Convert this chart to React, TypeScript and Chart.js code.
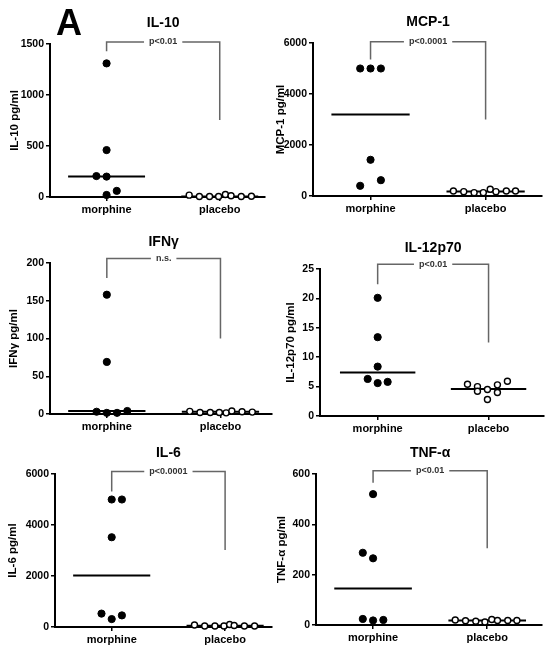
import React, { useEffect, useRef } from 'react';
import { Chart, registerables } from 'chart.js';

Chart.register(...registerables);

const FONT = '"Liberation Sans", Arial, Helvetica, sans-serif';

// ---- shared categories ----
const categories = ['morphine', 'placebo'];

// ---- IL-10 ----
const il10Morphine = [1310, 460, 205, 200, 20, 60];
const il10MorphineSpread = [0, 0, -0.09, 0, 0, 0.09];
const il10Placebo = [18, 5, 5, 5, 25, 12, 5, 8];
const il10PlaceboSpread = [-0.27, -0.18, -0.09, -0.01, 0.05, 0.1, 0.19, 0.28];
const il10Medians = [200, 5];
const il10Bracket = [1430, 1520, 755];
const il10Ticks = [0, 1500, 500];

// ---- MCP-1 ----
const mcp1Morphine = [5000, 5000, 5000, 1420, 620, 400];
const mcp1MorphineSpread = [-0.09, 0, 0.09, 0, 0.09, -0.09];
const mcp1Placebo = [196, 170, 131, 131, 262, 170, 196, 196];
const mcp1PlaceboSpread = [-0.28, -0.19, -0.1, -0.02, 0.04, 0.09, 0.18, 0.26];
const mcp1Medians = [3200, 180];
const mcp1Bracket = [5350, 6050, 3000];
const mcp1Ticks = [0, 6000, 2000];

// ---- IFNγ ----
const ifngMorphine = [158, 69, 3, 1.5, 1.5, 4];
const ifngMorphineSpread = [0, 0, -0.09, 0, 0.09, 0.18];
const ifngPlacebo = [3.5, 2, 2, 2, 1.5, 4, 3, 2.5];
const ifngPlaceboSpread = [-0.27, -0.18, -0.09, -0.01, 0.05, 0.1, 0.19, 0.28];
const ifngMedians = [4, 3];
const ifngBracket = [180, 206, 100];
const ifngTicks = [0, 200, 50];

// ---- IL-12p70 ----
const il12Morphine = [20.1, 13.4, 8.4, 6.3, 5.6, 5.8];
const il12MorphineSpread = [0, 0, 0, -0.09, 0, 0.09];
const il12Placebo = [5.4, 5.0, 4.2, 4.5, 2.8, 5.3, 4.0, 5.9];
const il12PlaceboSpread = [-0.19, -0.1, -0.1, -0.01, -0.01, 0.08, 0.08, 0.17];
const il12Medians = [7.4, 4.6];
const il12Bracket = [22.4, 25.8, 12.5];
const il12Ticks = [0, 25, 5];

// ---- IL-6 ----
const il6Morphine = [5000, 5000, 3520, 525, 310, 455];
const il6MorphineSpread = [0, 0.09, 0, -0.09, 0, 0.09];
const il6Placebo = [80, 40, 40, 40, 100, 60, 40, 40];
const il6PlaceboSpread = [-0.27, -0.18, -0.09, -0.01, 0.04, 0.08, 0.17, 0.26];
const il6Medians = [2020, 50];
const il6Bracket = [5315, 6100, 3020];
const il6Ticks = [0, 6000, 2000];

// ---- TNF-α ----
const tnfMorphine = [520, 287, 265, 24, 18, 20];
const tnfMorphineSpread = [0, -0.09, 0, -0.09, 0, 0.09];
const tnfPlacebo = [20, 17, 15, 12, 22, 18, 18, 18];
const tnfPlaceboSpread = [-0.28, -0.19, -0.1, -0.02, 0.04, 0.09, 0.18, 0.26];
const tnfMedians = [145, 18];
const tnfBracket = [565, 613, 305];
const tnfTicks = [0, 600, 200];

const MEDIAN_HALF = 0.34;
const X_AXIS_H = 20;

type Box = { left: number; top: number; width: number; height: number };
type Layout = {
  box: Box;
  axisW: number;
  padTop: number;
  padRight: number;
  padBottom: number;
  yTitlePad: number;
  xMin: number;
  xMax: number;
};
type PanelDef = {
  title: string;
  yTitle: string;
  pText: string;
  ticks: number[];
  morph: number[];
  morphDx: number[];
  plac: number[];
  placDx: number[];
  medians: number[];
  bracket: number[];
  label?: string;
  layout: Layout;
};

const panels: PanelDef[] = [
  {
    title: 'IL-10', yTitle: 'IL-10 pg/ml', pText: 'p<0.01', ticks: il10Ticks,
    morph: il10Morphine, morphDx: il10MorphineSpread, plac: il10Placebo, placDx: il10PlaceboSpread,
    medians: il10Medians, bracket: il10Bracket, label: 'A',
    layout: { box: { left: 0, top: 0, width: 277, height: 225 }, axisW: 50, padTop: 44, padRight: 12, padBottom: 8, yTitlePad: 8, xMin: 0.5, xMax: 2.4 },
  },
  {
    title: 'MCP-1', yTitle: 'MCP-1 pg/ml', pText: 'p<0.0001', ticks: mcp1Ticks,
    morph: mcp1Morphine, morphDx: mcp1MorphineSpread, plac: mcp1Placebo, placDx: mcp1PlaceboSpread,
    medians: mcp1Medians, bracket: mcp1Bracket,
    layout: { box: { left: 270, top: 0, width: 284, height: 225 }, axisW: 43, padTop: 43, padRight: 12, padBottom: 9, yTitlePad: 4, xMin: 0.5, xMax: 2.49 },
  },
  {
    title: 'IFNγ', yTitle: 'IFNγ pg/ml', pText: 'n.s.', ticks: ifngTicks,
    morph: ifngMorphine, morphDx: ifngMorphineSpread, plac: ifngPlacebo, placDx: ifngPlaceboSpread,
    medians: ifngMedians, bracket: ifngBracket,
    layout: { box: { left: 0, top: 215, width: 277, height: 225 }, axisW: 50, padTop: 48, padRight: 5, padBottom: 6, yTitlePad: 7, xMin: 0.5, xMax: 2.45 },
  },
  {
    title: 'IL-12p70', yTitle: 'IL-12p70 pg/ml', pText: 'p<0.01', ticks: il12Ticks,
    morph: il12Morphine, morphDx: il12MorphineSpread, plac: il12Placebo, placDx: il12PlaceboSpread,
    medians: il12Medians, bracket: il12Bracket,
    layout: { box: { left: 270, top: 215, width: 284, height: 225 }, axisW: 50, padTop: 54, padRight: 10, padBottom: 4, yTitlePad: 14, xMin: 0.48, xMax: 2.5 },
  },
  {
    title: 'IL-6', yTitle: 'IL-6 pg/ml', pText: 'p<0.0001', ticks: il6Ticks,
    morph: il6Morphine, morphDx: il6MorphineSpread, plac: il6Placebo, placDx: il6PlaceboSpread,
    medians: il6Medians, bracket: il6Bracket,
    layout: { box: { left: 0, top: 430, width: 277, height: 223 }, axisW: 55, padTop: 44, padRight: 2, padBottom: 6, yTitlePad: 6, xMin: 0.5, xMax: 2.41 },
  },
  {
    title: 'TNF-α', yTitle: 'TNF-α pg/ml', pText: 'p<0.01', ticks: tnfTicks,
    morph: tnfMorphine, morphDx: tnfMorphineSpread, plac: tnfPlacebo, placDx: tnfPlaceboSpread,
    medians: tnfMedians, bracket: tnfBracket,
    layout: { box: { left: 270, top: 430, width: 284, height: 223 }, axisW: 46, padTop: 44, padRight: 12, padBottom: 8, yTitlePad: 5, xMin: 0.5, xMax: 2.48 },
  },
];

function annotationPlugin(p: PanelDef) {
  return {
    id: 'annot',
    afterDatasetsDraw(chart: any) {
      const ctx = chart.ctx;
      const xs = chart.scales.x;
      const ys = chart.scales.y;
      const cx = xs.getPixelForValue(1.5);
      ctx.save();
      // significance text over bracket
      ctx.font = `bold 9px ${FONT}`;
      const tw = ctx.measureText(p.pText).width;
      const by = ys.getPixelForValue(p.bracket[1]);
      ctx.fillStyle = '#ffffff';
      ctx.fillRect(cx - tw / 2 - 5, by - 5, tw + 10, 10);
      ctx.fillStyle = '#333333';
      ctx.textAlign = 'center';
      ctx.textBaseline = 'middle';
      ctx.fillText(p.pText, cx, by);
      // panel title
      ctx.font = `bold 14px ${FONT}`;
      ctx.fillStyle = '#000000';
      ctx.fillText(p.title, cx, chart.chartArea.top - 21);
      // figure label
      if (p.label) {
        ctx.font = `bold 36px ${FONT}`;
        ctx.textAlign = 'left';
        ctx.textBaseline = 'alphabetic';
        ctx.fillText(p.label, 56 - p.layout.box.left, 35 - p.layout.box.top);
      }
      ctx.restore();
    },
  };
}

function Panel({ p }: { p: PanelDef }) {
  const ref = useRef<HTMLCanvasElement | null>(null);
  useEffect(() => {
    if (!ref.current) return;
    const L = p.layout;
    const morphPts = p.morph.map((v, i) => ({ x: 1 + p.morphDx[i], y: v }));
    const placPts = p.plac.map((v, i) => ({ x: 2 + p.placDx[i], y: v }));
    const medianLine = (c: number, v: number) => [
      { x: c - MEDIAN_HALF, y: v },
      { x: c + MEDIAN_HALF, y: v },
    ];
    const bracketPts = [
      { x: 1, y: p.bracket[0] },
      { x: 1, y: p.bracket[1] },
      { x: 2, y: p.bracket[1] },
      { x: 2, y: p.bracket[2] },
    ];
    const axisStyle = {
      grid: { display: true, drawOnChartArea: false, drawTicks: true, tickLength: 4, color: '#000', lineWidth: 1.5 },
      border: { display: true, color: '#000', width: 2 },
    };
    const chart = new Chart(ref.current, {
      type: 'scatter',
      data: {
        datasets: [
          {
            data: morphPts, pointRadius: 3.6, pointBackgroundColor: '#000', pointBorderColor: '#000',
            pointBorderWidth: 1, clip: false, order: 0,
          } as any,
          {
            data: placPts, pointRadius: 3, pointBackgroundColor: '#fff', pointBorderColor: '#000',
            pointBorderWidth: 1.4, clip: false, order: 0,
          } as any,
          {
            data: medianLine(1, p.medians[0]), showLine: true, borderColor: '#000', borderWidth: 2,
            pointRadius: 0, clip: false, order: 1,
          } as any,
          {
            data: medianLine(2, p.medians[1]), showLine: true, borderColor: '#000', borderWidth: 2,
            pointRadius: 0, clip: false, order: 1,
          } as any,
          {
            data: bracketPts, showLine: true, borderColor: '#666', borderWidth: 1.5,
            pointRadius: 0, clip: false, order: 2,
          } as any,
        ],
      },
      options: {
        responsive: false,
        animation: false,
        events: [],
        devicePixelRatio: 1,
        layout: { padding: { left: 0, top: L.padTop, right: L.padRight, bottom: L.padBottom } },
        plugins: { legend: { display: false }, tooltip: { enabled: false }, title: { display: false } },
        scales: {
          x: {
            type: 'linear',
            min: L.xMin,
            max: L.xMax,
            afterBuildTicks: (s: any) => {
              s.ticks = categories.map((_, i) => ({ value: i + 1 }));
            },
            afterFit: (s: any) => {
              s.height = X_AXIS_H;
            },
            ticks: {
              autoSkip: false,
              maxRotation: 0,
              padding: 2,
              color: '#000',
              font: { family: FONT, size: 11, weight: 'bold' },
              callback: (v: any) => categories[Math.round(Number(v)) - 1] ?? '',
            },
            ...axisStyle,
          },
          y: {
            type: 'linear',
            min: p.ticks[0],
            max: p.ticks[1],
            afterFit: (s: any) => {
              s.width = L.axisW;
            },
            ticks: {
              stepSize: p.ticks[2],
              padding: 2,
              color: '#000',
              font: { family: FONT, size: 10.5, weight: 'bold' },
              callback: (v: any) => String(v),
            },
            title: {
              display: true,
              text: p.yTitle,
              color: '#000',
              font: { family: FONT, size: 11.5, weight: 'bold' },
              padding: { top: L.yTitlePad, bottom: 0 },
            },
            ...axisStyle,
          },
        },
      } as any,
      plugins: [annotationPlugin(p)],
    });
    return () => chart.destroy();
  }, [p]);
  const b = p.layout.box;
  return (
    <canvas
      ref={ref}
      width={b.width}
      height={b.height}
      style={{ position: 'absolute', left: b.left, top: b.top, width: b.width, height: b.height }}
    />
  );
}

export default function App() {
  return (
    <div style={{ position: 'absolute', left: 0, top: 0, width: 554, height: 653, background: '#fff' }}>
      {panels.map((p) => (
        <Panel key={p.title} p={p} />
      ))}
    </div>
  );
}
